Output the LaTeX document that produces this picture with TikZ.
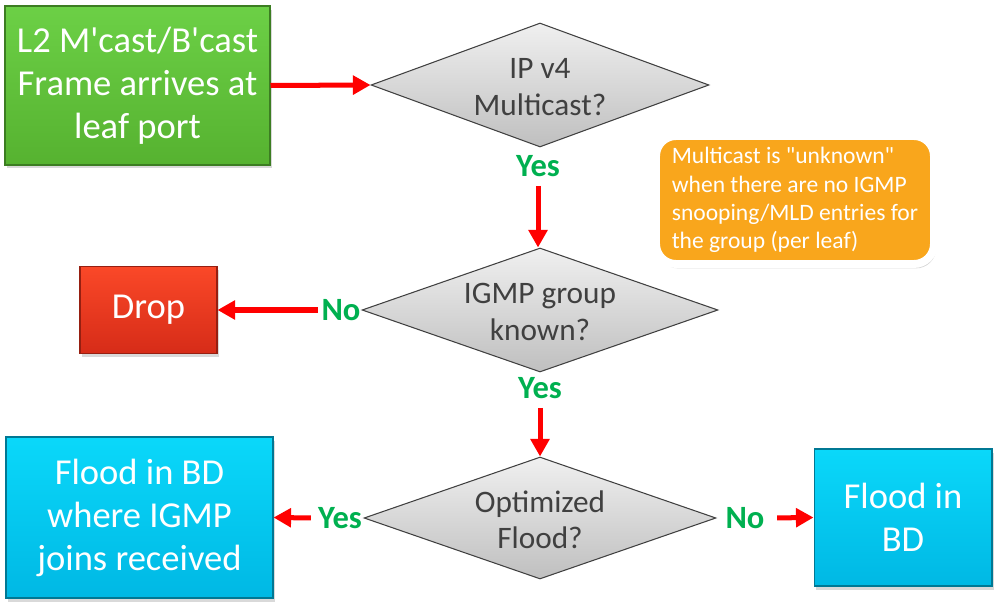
\documentclass[tikz,border=0pt]{standalone}
\usepackage{fontspec}
\setmainfont{Carlito}
\usetikzlibrary{shapes.geometric,arrows.meta,shadows}
\definecolor{arrowred}{RGB}{255,0,0}
\definecolor{answergreen}{RGB}{0,176,80}
\definecolor{greentop}{RGB}{108,208,70}
\definecolor{greenbot}{RGB}{86,178,48}
\definecolor{redtop}{RGB}{250,72,40}
\definecolor{redbot}{RGB}{214,44,24}
\definecolor{bluetop}{RGB}{10,216,250}
\definecolor{bluebot}{RGB}{0,184,228}
\definecolor{notefill}{RGB}{249,166,28}
\definecolor{decisiontext}{RGB}{64,64,64}
\begin{document}
\begin{tikzpicture}[x=0.02cm,y=-0.02cm,
  flow/.style={draw=arrowred,line width=2.85pt,-{Triangle[length=10pt,width=10.5pt]}},
  block/.style={rectangle,line width=0.6pt,text=white,align=center,inner sep=0pt,
    font=\fontsize{20.8}{24.5}\selectfont,
    drop shadow={shadow xshift=1.2pt,shadow yshift=-2pt,opacity=0.3}},
  startbox/.style={block,draw=greenbot!70!black,top color=greentop,bottom color=greenbot},
  dropbox/.style={block,draw=redbot!70!black,top color=redtop,bottom color=redbot},
  floodbox/.style={block,draw=bluebot!65!black,top color=bluetop,bottom color=bluebot},
  decision/.style={diamond,draw=black!75,line width=0.6pt,top color=black!6,bottom color=black!25,inner sep=0pt},
  dtext/.style={font=\fontsize{17.8}{21}\selectfont,text=decisiontext,align=center,yshift=-1pt},
  answer/.style={font=\bfseries\fontsize{18.5}{22}\selectfont,text=answergreen,inner sep=2pt},
  notebox/.style={rectangle,rounded corners=0.4cm,fill=notefill,draw=white,line width=4.5pt,
    text=white,align=left,font=\fontsize{13.4}{16.1}\selectfont,
    drop shadow={shadow xshift=1.2pt,shadow yshift=-2.5pt,opacity=0.3}}]
\useasboundingbox (0,0) rectangle (999,607);

\node[startbox,minimum width=5.3cm,minimum height=3.18cm] (start) at (137.5,85.5)
  {L2 M\textquotesingle cast/B\textquotesingle cast\\Frame arrives at\\leaf port};
\node[decision,minimum width=6.76cm,minimum height=2.48cm,
  label={[dtext]center:IP v4\\Multicast?}] (d1) at (540,85) {};
\node[answer] (y1) at (538,166) {Yes};

\node[decision,minimum width=7.12cm,minimum height=2.48cm,
  label={[dtext]center:IGMP group\\known?}] (d2) at (540,310) {};
\node[answer] (n2) at (341,310) {No};
\node[dropbox,minimum width=2.74cm,minimum height=1.74cm] (drop) at (148.5,310) {Drop};
\node[answer] (y2) at (540,388) {Yes};

\node[decision,minimum width=7.04cm,minimum height=2.44cm,
  label={[dtext]center:Optimized\\Flood?}] (d3) at (540,518) {};
\node[answer] (y3) at (340,518) {Yes};
\node[answer] (n3) at (745,518) {No};
\node[floodbox,minimum width=5.34cm,minimum height=3.22cm] (flood) at (139.5,517.5)
  {Flood in BD\\where IGMP\\joins received};
\node[floodbox,minimum width=3.56cm,minimum height=2.74cm] (floodbd) at (903,517.5)
  {Flood in\\BD};

\node[notebox,minimum width=5.56cm,minimum height=2.56cm] (note) at (795,200)
  {Multicast is \textquotedbl unknown\textquotedbl\\when there are no IGMP\\snooping/MLD entries for\\the group (per leaf)};

\draw[flow] (start.east) -- (d1.west);
\draw[flow,shorten <=3pt] (y1.south) -- (y1.south |- d2.north);
\draw[flow] (n2.west) -- (drop.east);
\draw[flow,shorten <=3pt] (y2.south) -- (d3.north);
\draw[flow,shorten <=2pt] (y3.west) -- (flood.east);
\draw[flow,shorten <=5pt] (n3.east) -- (floodbd.west);
\end{tikzpicture}
\end{document}
